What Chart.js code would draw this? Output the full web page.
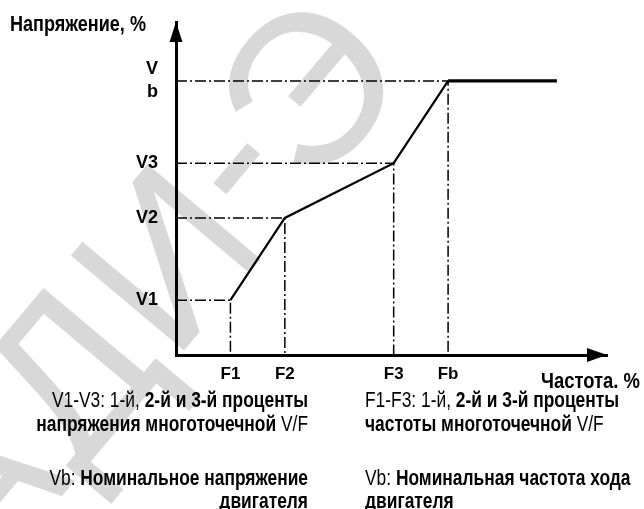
<!DOCTYPE html>
<html>
<head>
<meta charset="utf-8">
<script src="https://cdn.jsdelivr.net/npm/chart.js@4.4.1/dist/chart.umd.min.js"></script>
<style>
  html, body { margin: 0; padding: 0; background: #ffffff; }
  #wrap { width: 644px; height: 509px; position: relative; }
</style>
</head>
<body>
<div id="wrap"><canvas id="vf" width="644" height="509"></canvas></div>
<script>
// Multi-point V/F characteristic: break points F1..Fb / V1..Vb
const freqLabels = ['F1', 'F2', 'F3', 'Fb'];
const freqValues = [10, 20, 40, 50];
const voltLabels = ['V1', 'V2', 'V3', 'Vb'];
const voltValues = [20, 50, 70, 100];
const ratedRunEnd = 70;      // frequency where the constant-voltage section stops
const freqAxisMax = 79.2;
const voltAxisMax = 121.5;

const yTitle = 'Напряжение, %';
const xTitle = 'Частота. %';
// explanatory notes: [text, bold]
const notesLeft = [
  [['V1-V3: 1-й, ', false], ['2-й и 3-й проценты', true]],
  [['напряжения многоточечной ', true], ['V/F', false]],
  [['Vb: ', false], ['Номинальное напряжение', true]],
  [['двигателя', true]]
];
const notesRight = [
  [['F1-F3: 1-й, ', false], ['2-й и 3-й проценты', true]],
  [['частоты многоточечной ', true], ['V/F', false]],
  [['Vb: ', false], ['Номинальная частота хода', true]],
  [['двигателя', true]]
];
const watermarkGlyphs = ['А', 'Д', 'И', '-', 'Э'];

// pick a condensed face if present, otherwise squeeze the regular one
function hasFont(name) {
  const c = document.createElement('canvas').getContext('2d');
  c.font = '20px monospace';
  const a = c.measureText('Напряжение abc').width;
  c.font = '20px "' + name + '", monospace';
  return c.measureText('Напряжение abc').width !== a;
}
const NARROW = hasFont('Liberation Sans Narrow');
const FAMILY = NARROW ? '"Liberation Sans Narrow", "Liberation Sans", sans-serif' : '"Liberation Sans", Arial, sans-serif';
const SQUEEZE = NARROW ? 1 : 0.82;

function fontStr(bold, size) {
  return (bold ? 'bold ' : '') + size + 'px ' + FAMILY;
}

function drawRich(ctx, segs, x, y, align, size) {
  ctx.save();
  ctx.textBaseline = 'alphabetic';
  ctx.textAlign = 'left';
  ctx.fillStyle = '#000';
  const widths = segs.map(s => { ctx.font = fontStr(s[1], size); return ctx.measureText(s[0]).width; });
  const total = widths.reduce((a, b) => a + b, 0) * SQUEEZE;
  const start = align === 'right' ? x - total : x;
  ctx.translate(start, y);
  ctx.scale(SQUEEZE, 1);
  let cx = 0;
  segs.forEach((s, i) => {
    ctx.font = fontStr(s[1], size);
    ctx.fillText(s[0], cx, 0);
    cx += widths[i];
  });
  ctx.restore();
}

// faint background lettering
const watermarkPlugin = {
  id: 'watermark',
  beforeDraw(chart) {
    const ctx = chart.ctx;
    const size = 215;
    const ang = -50 * Math.PI / 180;
    const centers = [[-30, 485], [65, 372], [163, 255], [236, 168], [305, 85]];
    ctx.save();
    ctx.fillStyle = '#d8d8d8';
    ctx.font = size + 'px "Liberation Sans", Arial, sans-serif';
    ctx.textAlign = 'center';
    ctx.textBaseline = 'alphabetic';
    watermarkGlyphs.forEach((g, i) => {
      ctx.save();
      ctx.translate(centers[i][0], centers[i][1]);
      ctx.rotate(ang);
      ctx.fillText(g, 0, (g === '-' ? 0.27 : 0.36) * size);
      ctx.restore();
    });
    ctx.restore();
  }
};

// arrowheads, axis titles and notes
const annotatePlugin = {
  id: 'annotate',
  afterDraw(chart) {
    const ctx = chart.ctx;
    const a = chart.chartArea;
    const xs = chart.scales.x, ys = chart.scales.y;
    const ox = xs.getPixelForValue(0);
    const oy = ys.getPixelForValue(0);
    ctx.save();
    ctx.fillStyle = '#000';
    ctx.beginPath();
    ctx.moveTo(ox, a.top);
    ctx.lineTo(ox - 6.5, a.top + 20);
    ctx.lineTo(ox + 6.5, a.top + 20);
    ctx.closePath();
    ctx.fill();
    ctx.beginPath();
    ctx.moveTo(a.right, oy);
    ctx.lineTo(a.right - 20, oy - 7);
    ctx.lineTo(a.right - 20, oy + 7);
    ctx.closePath();
    ctx.fill();
    ctx.restore();

    drawRich(ctx, [[yTitle, true]], 10, 31, 'left', 22);
    drawRich(ctx, [[xTitle, true]], 640, 388, 'right', 22.5);

    const baselines = [407, 431, 485, 508];
    notesLeft.forEach((line, i) => drawRich(ctx, line, 308, baselines[i], 'right', 21.2));
    notesRight.forEach((line, i) => drawRich(ctx, line, 365, baselines[i], 'left', 21.2));
  }
};

const guideDash = [11, 3, 2, 3];
const datasets = [];
freqValues.forEach((f, i) => {
  datasets.push({
    data: [{ x: 0, y: voltValues[i] }, { x: f, y: voltValues[i] }, { x: f, y: 0 }],
    showLine: true,
    borderColor: '#000',
    borderWidth: 1.5,
    borderDash: guideDash,
    pointRadius: 0,
    fill: false
  });
});
datasets.push({
  data: freqValues.map((f, i) => ({ x: f, y: voltValues[i] })),
  showLine: true,
  borderColor: '#000',
  borderWidth: 2.2,
  pointRadius: 0,
  fill: false
});
datasets.push({
  data: [{ x: freqValues[3], y: voltValues[3] }, { x: ratedRunEnd, y: voltValues[3] }],
  showLine: true,
  borderColor: '#000',
  borderWidth: 3.3,
  pointRadius: 0,
  fill: false
});

const tickFont = { family: FAMILY, weight: 'bold', size: 18, lineHeight: 1.28 };

new Chart(document.getElementById('vf'), {
  type: 'scatter',
  data: { datasets },
  options: {
    responsive: false,
    devicePixelRatio: 1,
    animation: false,
    layout: { padding: { left: 116, right: 37, top: 22, bottom: 124 } },
    plugins: { legend: { display: false }, tooltip: { enabled: false } },
    scales: {
      x: {
        type: 'linear',
        min: 0,
        max: freqAxisMax,
        grid: { display: false, drawTicks: false },
        border: { display: true, color: '#000', width: 3 },
        afterBuildTicks: s => { s.ticks = freqValues.map(v => ({ value: v })); },
        afterFit: s => { s.height = 30; s.paddingLeft = 0; s.paddingRight = 0; s.paddingTop = 0; s.paddingBottom = 0; },
        ticks: {
          autoSkip: false,
          maxRotation: 0,
          padding: 9,
          color: '#000',
          font: { family: FAMILY, weight: 'bold', size: 17, lineHeight: 1.2 },
          callback: v => freqLabels[freqValues.indexOf(v)]
        }
      },
      y: {
        type: 'linear',
        min: 0,
        max: voltAxisMax,
        grid: { display: false, drawTicks: false },
        border: { display: true, color: '#000', width: 3 },
        afterBuildTicks: s => { s.ticks = voltValues.map(v => ({ value: v })); },
        afterFit: s => { s.width = 60; s.paddingLeft = 0; s.paddingRight = 0; s.paddingTop = 0; s.paddingBottom = 0; },
        ticks: {
          autoSkip: false,
          padding: 18,
          color: '#000',
          font: tickFont,
          callback: v => {
            const lbl = voltLabels[voltValues.indexOf(v)];
            return lbl === 'Vb' ? ['V', 'b'] : lbl;
          }
        }
      }
    }
  },
  plugins: [watermarkPlugin, annotatePlugin]
});
</script>
</body>
</html>
